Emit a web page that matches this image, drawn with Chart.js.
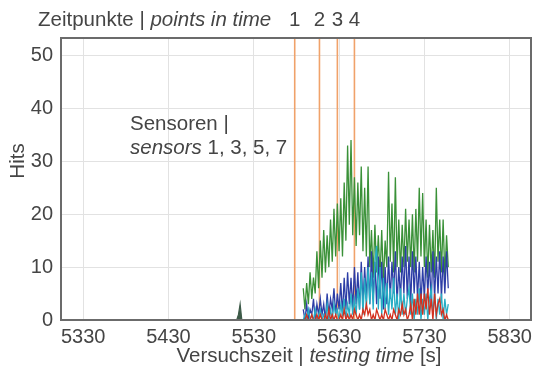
<!DOCTYPE html>
<html lang="de">
<head>
  <meta charset="UTF-8"/>
  <title>Hits</title>
  <style>body{margin:0;background:#fff}</style>
</head>
<body>
  <canvas id="c" width="546" height="370"></canvas>
  <script src="https://cdn.jsdelivr.net/npm/chart.js@4.4.1/dist/chart.umd.min.js"></script>
  <script>
    const times = [
      5588,5590,5592,5594,5596,5598,5600,5602,5604,5606,
      5608,5610,5612,5614,5616,5618,5620,5622,5624,5626,
      5628,5630,5632,5634,5636,5638,5640,5642,5644,5646,
      5648,5650,5652,5654,5656,5658,5660,5662,5664,5666,
      5668,5670,5672,5674,5676,5678,5680,5682,5684,5686,
      5688,5690,5692,5694,5696,5698,5700,5702,5704,5706,
      5708,5710,5712,5714,5716,5718,5720,5722,5724,5726,
      5728,5730,5732,5734,5736,5738,5740,5742,5744,5746,
      5748,5750,5752,5754,5756,5758
    ];
    const green = [
      6,2,7,3,9,4,8,5,13,6,
      15,8,17,9,16,10,19,11,21,12,
      22,13,23,12,26,15,33,18,34,16,
      27,14,26,16,29,13,25,12,29,10,
      17,8,18,9,16,8,17,7,15,10,
      28,11,22,9,27,10,19,9,18,10,
      21,11,19,10,20,9,21,11,25,12,
      24,10,19,8,18,9,17,8,25,11,
      19,9,19,8,16,10
    ];
    const blue = [
      2,0,3,0,2,1,4,0,3,1,
      4,1,3,0,5,1,4,2,6,1,
      5,2,7,1,8,2,9,3,8,2,
      10,3,9,2,11,3,10,4,12,3,
      13,4,11,3,12,4,11,2,10,3,
      12,4,11,5,13,3,10,4,12,5,
      14,4,12,3,13,5,12,4,11,3,
      10,4,12,5,11,3,13,4,12,5,
      13,4,12,5,13,6
    ];
    const cyan = [
      0,1,0,2,0,1,0,2,0,1,
      2,0,1,0,3,0,2,0,3,1,
      2,0,3,1,4,0,3,1,5,1,
      4,1,6,2,9,1,8,2,10,3,
      9,2,11,14,2,10,1,8,2,7,
      1,6,2,8,1,5,0,6,1,5,
      1,4,6,1,5,0,4,1,6,0,
      4,1,5,0,4,6,1,5,0,4,
      1,5,0,4,1,3
    ];
    const red = [
      0,0,1,0,0,1,0,0,1,0,
      1,0,0,1,0,2,0,1,0,1,
      0,0,1,0,2,0,1,0,1,0,
      2,1,0,1,0,2,1,3,1,2,
      0,1,0,2,1,0,1,0,2,1,
      0,1,0,2,1,0,2,1,3,1,
      2,0,1,3,0,4,1,5,1,5,
      1,5,2,6,1,4,0,5,1,3,
      4,1,2,0,1,0
    ];
    const blipTimes = [5510, 5512, 5514, 5516];
    const blipHits = [0, 1, 3, 0];
    const markTimes = [5578, 5607, 5628, 5648];
    const markLabels = ['1', '2', '3', '4'];
    const xTicks = [5330, 5430, 5530, 5630, 5730, 5830];
    const yTicks = [0, 10, 20, 30, 40, 50];
    const xMin = 5304, xMax = 5855, yMax = 53.3;

    const FONT = 'Liberation Sans, Arial, sans-serif';
    const TXT = 20.5;
    const pts = (ts, vs) => vs.map((v, i) => ({ x: ts[i], y: v }));
    const series = (vals, color, order) => ({
      data: pts(times, vals), borderColor: color, borderWidth: 1.3,
      pointRadius: 0, tension: 0, order
    });

    const datasets = [
      series(red, '#d4301e', 0),
      series(cyan, '#27adc4', 1),
      series(blue, '#2c3da6', 2),
      series(green, '#3a9138', 3),
      { data: pts(blipTimes, blipHits), borderColor: '#3d5a48', backgroundColor: '#3d5a48',
        fill: true, borderWidth: 1.2, pointRadius: 0, order: 3 }
    ];
    markTimes.forEach(t => datasets.push({
      data: [{ x: t, y: 0 }, { x: t, y: yMax }], borderColor: '#f0a26a',
      borderWidth: 1.6, pointRadius: 0, order: 5
    }));

    function mixedText(ctx, parts, x, y, size) {
      parts.forEach(([txt, italic]) => {
        ctx.font = (italic ? 'italic ' : '') + size + 'px ' + FONT;
        ctx.fillText(txt, x, y);
        x += ctx.measureText(txt).width;
      });
    }
    function mixedWidth(ctx, parts, size) {
      return parts.reduce((w, [txt, italic]) => {
        ctx.font = (italic ? 'italic ' : '') + size + 'px ' + FONT;
        return w + ctx.measureText(txt).width;
      }, 0);
    }

    const texts = {
      id: 'texts',
      afterDraw(chart) {
        const { ctx, chartArea: a, scales: { x } } = chart;
        ctx.save();
        ctx.strokeStyle = '#6b6b6b';
        ctx.lineWidth = 2;
        ctx.strokeRect(a.left, a.top, a.right - a.left, a.bottom - a.top);
        ctx.fillStyle = '#454545';
        ctx.textAlign = 'left';
        ctx.textBaseline = 'alphabetic';
        mixedText(ctx, [['Zeitpunkte | ', false], ['points in time', true]], 38, 26, TXT);
        ctx.font = TXT + 'px ' + FONT;
        ctx.textAlign = 'center';
        markTimes.forEach((t, i) => ctx.fillText(markLabels[i], x.getPixelForValue(t), 26));
        ctx.textAlign = 'left';
        mixedText(ctx, [['Sensoren |', false]], 130, 130, TXT);
        mixedText(ctx, [['sensors', true], [' 1, 3, 5, 7', false]], 130, 154, TXT);
        const xt = [['Versuchszeit | ', false], ['testing time', true], [' [s]', false]];
        mixedText(ctx, xt, 309 - mixedWidth(ctx, xt, TXT) / 2, 362, TXT);
        ctx.translate(18, 161);
        ctx.rotate(-Math.PI / 2);
        ctx.textAlign = 'center';
        ctx.textBaseline = 'middle';
        ctx.font = TXT + 'px ' + FONT;
        ctx.fillText('Hits', 0, 0);
        ctx.restore();
      }
    };

    new Chart(document.getElementById('c'), {
      type: 'line',
      data: { datasets },
      options: {
        responsive: false,
        animation: false,
        layout: { padding: { top: 38, right: 15, left: 0, bottom: 0 } },
        plugins: { legend: { display: false }, tooltip: { enabled: false } },
        scales: {
          x: {
            type: 'linear', min: xMin, max: xMax,
            afterBuildTicks: s => { s.ticks = xTicks.map(v => ({ value: v })); },
            afterFit: s => { s.height = 50; },
            grid: { color: '#e2e2e2', drawTicks: false },
            border: { display: false },
            ticks: { font: { family: FONT, size: 20 }, color: '#454545', padding: 5,
                     maxRotation: 0, autoSkip: false, callback: v => String(v) }
          },
          y: {
            min: 0, max: yMax,
            afterBuildTicks: s => { s.ticks = yTicks.map(v => ({ value: v })); },
            afterFit: s => { s.width = 61; },
            grid: { color: '#e2e2e2', drawTicks: false },
            border: { display: false },
            ticks: { font: { family: FONT, size: 20 }, color: '#454545', padding: 8,
                     callback: v => String(v) }
          }
        }
      },
      plugins: [texts]
    });
  </script>
</body>
</html>
